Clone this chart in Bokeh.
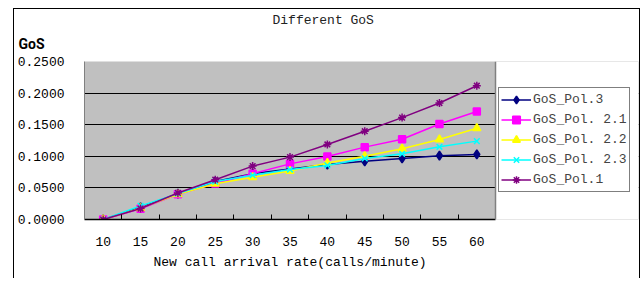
from bokeh.plotting import figure
from bokeh.models import (Range1d, FixedTicker, NumeralTickFormatter, Legend, LegendItem,
                          Title, BoxAnnotation, Span)
from bokeh.embed import file_html
from bokeh.resources import INLINE

rates = [10, 15, 20, 25, 30, 35, 40, 45, 50, 55, 60]
gos_pol3 = [0.0, 0.019, 0.041, 0.060, 0.0725, 0.080, 0.087, 0.092, 0.0966, 0.101, 0.103]
gos_pol21 = [0.0, 0.017, 0.040, 0.057, 0.0725, 0.088, 0.0998, 0.1145, 0.127, 0.151, 0.171]
gos_pol22 = [0.0, 0.018, 0.040, 0.0567, 0.067, 0.0767, 0.0893, 0.100, 0.112, 0.1266, 0.1444]
gos_pol23 = [0.0, 0.0215, 0.041, 0.060, 0.070, 0.079, 0.0856, 0.0966, 0.104, 0.115, 0.124]
gos_pol1 = [0.0, 0.0173, 0.042, 0.063, 0.0845, 0.0987, 0.1187, 0.1397, 0.1612, 0.1843, 0.2117]
y_ticks = [0.0, 0.05, 0.10, 0.15, 0.20, 0.25]

MONO = "Liberation Mono"

# layout (pixels)
W, H = 640, 278
LEFT, TOP, PLOT_W, PLOT_H, RIGHT = 84, 61, 411, 158, 2
step = rates[1] - rates[0]
x_lo = rates[0] - step / 2
x_hi = rates[-1] + step / 2
frame_w = W - LEFT - RIGHT
x_end = x_lo + (x_hi - x_lo) * frame_w / PLOT_W
between_ticks = [r + step / 2 for r in rates[:-1]]

p = figure(width=W, height=H, output_backend="svg", toolbar_location=None,
           x_range=Range1d(x_lo, x_end), y_range=Range1d(0, y_ticks[-1]),
           min_border_left=LEFT, min_border_right=RIGHT, min_border_top=TOP,
           min_border_bottom=H - TOP - PLOT_H)
p.background_fill_color = "#C0C0C0"
p.border_fill_alpha = 0
p.outline_line_color = None
# outer chart box (left, top, right edges) drawn as page decoration
p.styles = {
    "background": ("linear-gradient(#000,#000) 13px 8px / 1px 100% no-repeat, "
                   "linear-gradient(#000,#000) 13px 8px / 627px 1px no-repeat, "
                   "linear-gradient(#000,#000) 639px 8px / 1px 100% no-repeat, white"),
}

# x axis
p.xaxis.ticker = FixedTicker(ticks=rates, minor_ticks=between_ticks)
p.xaxis.bounds = (x_lo, x_hi)
p.xaxis.major_tick_line_color = None
p.xaxis.minor_tick_in = 5
p.xaxis.minor_tick_out = 0
p.xaxis.minor_tick_line_color = "black"
p.xaxis.axis_line_color = "black"
p.xaxis.axis_line_width = 1.5
p.xaxis.major_label_standoff = 11
p.xaxis.major_label_text_font = MONO
p.xaxis.major_label_text_font_size = "13px"
p.xaxis.major_label_text_color = "black"

# y axis
p.yaxis.ticker = FixedTicker(ticks=y_ticks)
p.yaxis.formatter = NumeralTickFormatter(format="0.0000")
p.yaxis.major_tick_out = 0
p.yaxis.major_tick_in = 0
p.yaxis.minor_tick_line_color = None
p.yaxis.axis_line_color = "#808080"
p.yaxis.major_label_standoff = 20
p.yaxis.major_label_text_font = MONO
p.yaxis.major_label_text_font_size = "13px"
p.yaxis.major_label_text_color = "black"

p.xgrid.grid_line_color = None
p.ygrid.ticker = FixedTicker(ticks=y_ticks)
p.ygrid.grid_line_color = "black"
p.ygrid.grid_line_width = 1.2

series = [
    ("GoS_Pol.3", gos_pol3, "#000080", "diamond", 9),
    ("GoS_Pol. 2.1", gos_pol21, "#FF00FF", "square", 7),
    ("GoS_Pol. 2.2", gos_pol22, "#FFFF00", "triangle", 8),
    ("GoS_Pol. 2.3", gos_pol23, "#00FFFF", "x", 8),
    ("GoS_Pol.1", gos_pol1, "#800080", "asterisk", 8),
]
items = []
for name, vals, color, marker, size in series:
    r1 = p.line(rates, vals, line_color=color, line_width=1.5)
    r2 = p.scatter(rates, vals, marker=marker, size=size, fill_color=color,
                   line_color=color, line_width=1.5)
    items.append(LegendItem(label=name, renderers=[r1, r2]))

# white area right of the plot region (legend zone)
p.add_layout(BoxAnnotation(left=x_hi, fill_color="white", fill_alpha=1, line_color=None))
p.add_layout(Span(location=x_hi, dimension="height", line_color="#808080", line_width=1.5))

legend = Legend(items=items, location=(498 - LEFT, TOP + PLOT_H - 192), margin=0, padding=2,
                glyph_width=30, glyph_height=19, spacing=1, label_standoff=2,
                label_text_font=MONO, label_text_font_size="13px",
                label_height=19, border_line_color="black", border_line_width=1,
                background_fill_color="white", background_fill_alpha=1)
p.add_layout(legend)

p.add_layout(Title(text="GoS", align="left", offset=18 - LEFT, standoff=19,
                   text_font="Roboto", text_font_size="14px", text_font_style="bold",
                   text_color="black"), "above")
p.add_layout(Title(text="Different GoS", align="left", offset=272 - LEFT, standoff=-7,
                   text_font=MONO, text_font_size="13px", text_font_style="normal",
                   text_color="#222222"), "above")
p.add_layout(Title(text="New call arrival rate(calls/minute)", align="left",
                   offset=153 - LEFT, standoff=8, text_font=MONO, text_font_size="13px",
                   text_font_style="normal", text_color="black"), "below")

open("out.html", "w").write(file_html(p, INLINE))
